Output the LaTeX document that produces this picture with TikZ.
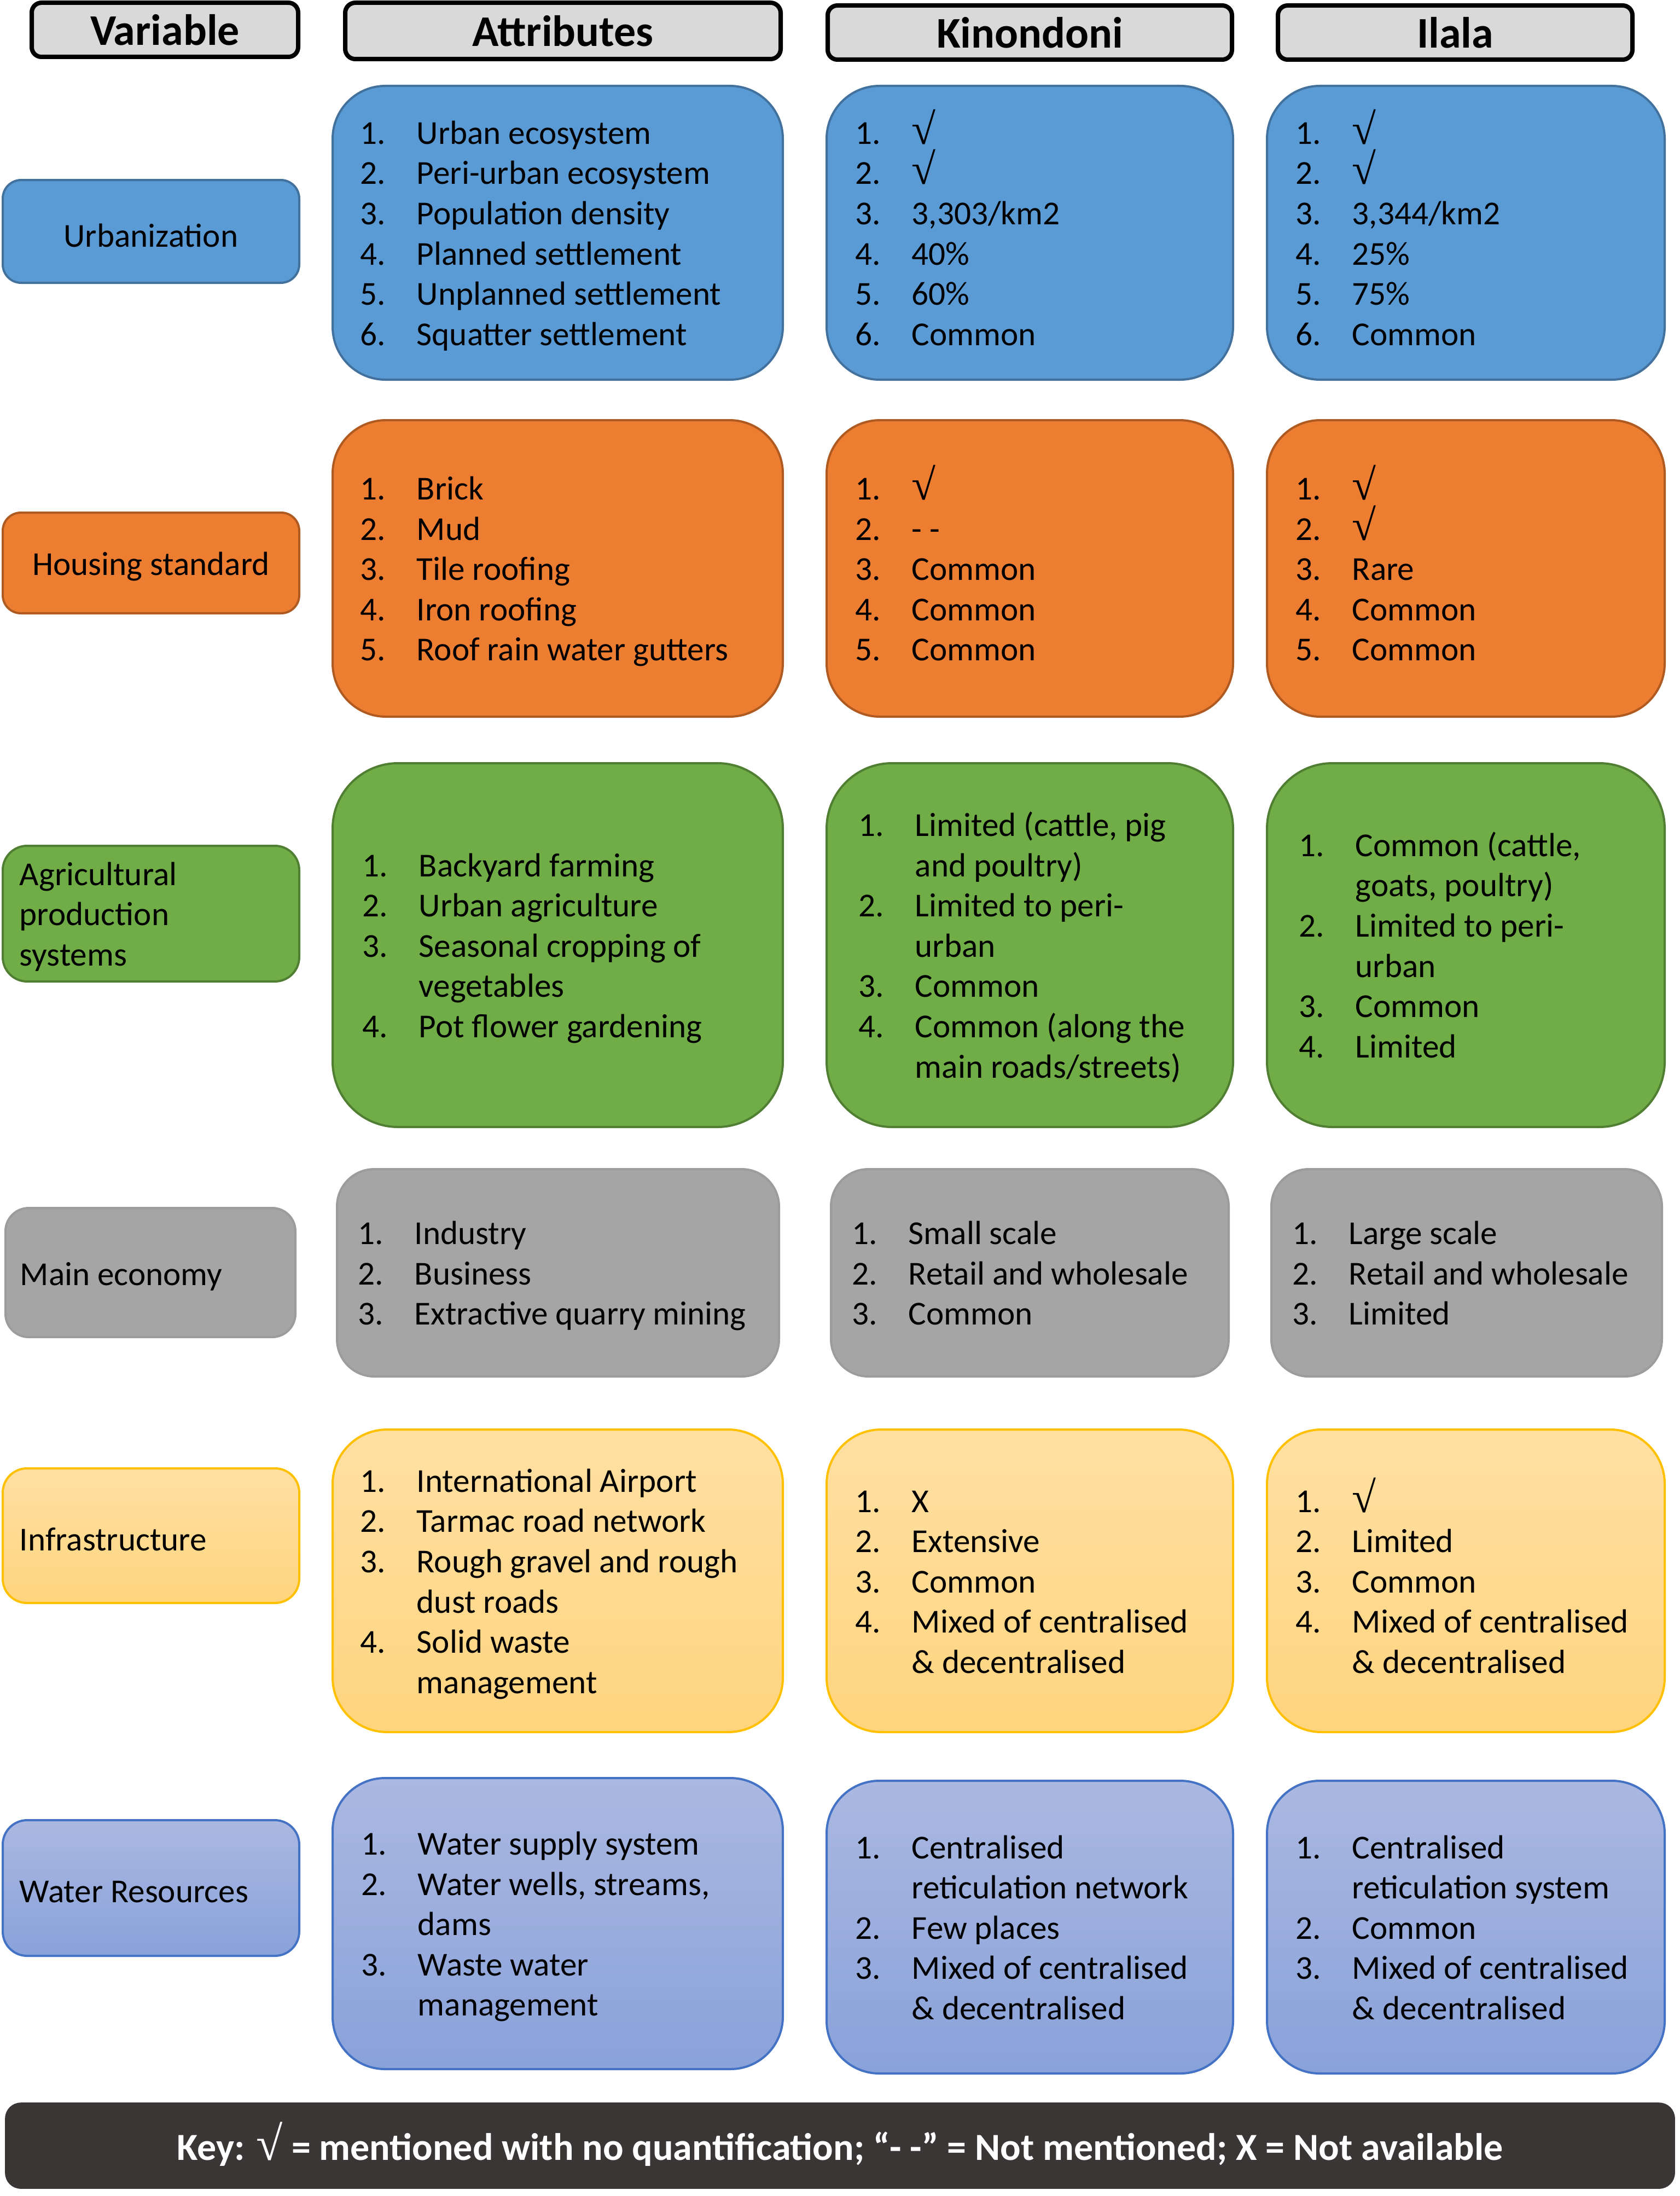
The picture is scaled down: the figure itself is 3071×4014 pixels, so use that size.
\documentclass[tikz,border=0pt]{standalone}
\usepackage{fontspec}
\setmainfont{Carlito}
\newfontfamily\symf{Liberation Serif}
\usepackage{array}
\definecolor{cBlue}{HTML}{5B9BD5}
\definecolor{cBlueD}{HTML}{41719C}
\definecolor{cOr}{HTML}{ED7D31}
\definecolor{cOrD}{HTML}{AE5A21}
\definecolor{cGr}{HTML}{70AD47}
\definecolor{cGrD}{HTML}{507E32}
\definecolor{cGy}{HTML}{A5A5A5}
\definecolor{cGyD}{HTML}{9C9C9C}
\definecolor{cGoT}{HTML}{FFE0A3}
\definecolor{cGoB}{HTML}{FFD47E}
\definecolor{cGoD}{HTML}{FFC000}
\definecolor{cWaT}{HTML}{ABB8E1}
\definecolor{cWaB}{HTML}{89A2DA}
\definecolor{cWaD}{HTML}{4472C4}
\definecolor{cHead}{HTML}{D9D9D9}
\definecolor{cKey}{HTML}{3A3636}
\newcommand\ck{\smash{\symf\fontsize{20}{18.4}\selectfont √}}
\newcommand\kck{\smash{\symf\fontsize{22}{20}\selectfont √}}
\newcommand\lst[1]{\begin{tabular}{@{}p{25.75pt}@{}l@{}}#1\end{tabular}}
\newcommand\mkbox[6]{%
  \pgfmathsetmacro\bw{(#5-#3)*0.25}%
  \pgfmathsetmacro\bh{(#6-#4)*0.25}%
  \pgfmathsetmacro\br{0.18*min(\bw,\bh)}%
  \node[#2, minimum width=\bw pt, minimum height=\bh pt, inner sep=0pt,
        rounded corners=\br pt] (#1) at ({(#3+#5)/2},{(#4+#6)/2}) {};}
\tikzset{
  x=0.25pt, y=-0.25pt,
  cellb/.style={line width=1pt},
  blu/.style={cellb, fill=cBlue, draw=cBlueD},
  ora/.style={cellb, fill=cOr, draw=cOrD},
  gre/.style={cellb, fill=cGr, draw=cGrD},
  gry/.style={cellb, fill=cGy, draw=cGyD},
  gol/.style={cellb, top color=cGoT, bottom color=cGoB, draw=cGoD},
  wat/.style={cellb, top color=cWaT, bottom color=cWaB, draw=cWaD},
  hdr/.style={fill=cHead, draw=black, line width=2pt},
  keyb/.style={fill=cKey, draw=cKey},
  txt/.style={inner sep=0pt, font=\fontsize{15.3}{18.4}\selectfont, anchor=west, yshift=-1.75pt},
  ctxt/.style={inner sep=0pt, font=\fontsize{15.3}{18.4}\selectfont, align=center, yshift=-1.75pt},
  htxt/.style={inner sep=0pt, font=\fontsize{20}{24}\selectfont\bfseries},
}
\begin{document}
\begin{tikzpicture}
\useasboundingbox (0,0) rectangle (3071,4014);
% headers
\mkbox{hv}{hdr}{58}{5}{545}{104}
\mkbox{ha}{hdr}{631}{5}{1427}{108}
\mkbox{hk}{hdr}{1513}{10}{2252}{109}
\mkbox{hi}{hdr}{2336}{10}{2984}{109}
\node[htxt] (hvt) at (hv) {Variable};
\node[htxt] (hat) at (ha) {Attributes};
\node[htxt] (hkt) at (hk) {Kinondoni};
\node[htxt] (hit) at (hi) {Ilala};

% Row 1 Urbanization
\mkbox{v1}{blu}{5}{329}{547}{517}
\mkbox{a1}{blu}{608}{157}{1431}{694}
\mkbox{k1}{blu}{1511}{157}{2254}{694}
\mkbox{i1}{blu}{2316}{157}{3043}{694}
\node[ctxt] (v1t) at (v1) {Urbanization};
\node[txt] (a1t) at ([xshift=13pt]a1.west) {\lst{1.&Urban ecosystem\\2.&Peri-urban ecosystem\\3.&Population density\\4.&Planned settlement\\5.&Unplanned settlement\\6.&Squatter settlement}};
\node[txt] (k1t) at ([xshift=13.5pt]k1.west) {\lst{1.&\ck\\2.&\ck\\3.&3,303/km2\\4.&40\%\\5.&60\%\\6.&Common}};
\node[txt] (i1t) at ([xshift=13.5pt]i1.west) {\lst{1.&\ck\\2.&\ck\\3.&3,344/km2\\4.&25\%\\5.&75\%\\6.&Common}};

% Row 2 Housing
\mkbox{v2}{ora}{5}{937}{547}{1121}
\mkbox{a2}{ora}{608}{768}{1431}{1310}
\mkbox{k2}{ora}{1511}{768}{2254}{1310}
\mkbox{i2}{ora}{2316}{768}{3043}{1310}
\node[ctxt] (v2t) at (v2) {Housing standard};
\node[txt] (a2t) at ([xshift=13pt]a2.west) {\lst{1.&Brick\\2.&Mud\\3.&Tile roofing\\4.&Iron roofing\\5.&Roof rain water gutters}};
\node[txt] (k2t) at ([xshift=13.5pt]k2.west) {\lst{1.&\ck\\2.&- -\\3.&Common\\4.&Common\\5.&Common}};
\node[txt] (i2t) at ([xshift=13.5pt]i2.west) {\lst{1.&\ck\\2.&\ck\\3.&Rare\\4.&Common\\5.&Common}};

% Row 3 Agriculture
\mkbox{v3}{gre}{5}{1546}{547}{1794}
\mkbox{a3}{gre}{608}{1395}{1431}{2060}
\mkbox{k3}{gre}{1511}{1395}{2254}{2060}
\mkbox{i3}{gre}{2316}{1395}{3043}{2060}
\node[txt] (v3t) at ([xshift=8pt]v3.west) {\begin{tabular}{@{}l@{}}Agricultural\\production\\systems\end{tabular}};
\node[txt] (a3t) at ([xshift=14pt]a3.west) {\lst{1.&Backyard farming\\2.&Urban agriculture\\3.&Seasonal cropping of\\&vegetables\\4.&Pot flower gardening}};
\node[txt] (k3t) at ([xshift=15pt]k3.west) {\lst{1.&Limited (cattle, pig\\&and poultry)\\2.&Limited to peri-\\&urban\\3.&Common\\4.&Common (along the\\&main roads/streets)}};
\node[txt] (i3t) at ([xshift=15pt]i3.west) {\lst{1.&Common (cattle,\\&goats, poultry)\\2.&Limited to peri-\\&urban\\3.&Common\\4.&Limited}};

% Row 4 Economy
\mkbox{v4}{gry}{10}{2208}{540}{2444}
\mkbox{a4}{gry}{616}{2137}{1424}{2516}
\mkbox{k4}{gry}{1519}{2137}{2246}{2516}
\mkbox{i4}{gry}{2324}{2137}{3038}{2516}
\node[txt] (v4t) at ([xshift=7pt]v4.west) {Main economy};
\node[txt] (a4t) at ([xshift=10pt]a4.west) {\lst{1.&Industry\\2.&Business\\3.&Extractive quarry mining}};
\node[txt] (k4t) at ([xshift=10pt]k4.west) {\lst{1.&Small scale\\2.&Retail and wholesale\\3.&Common}};
\node[txt] (i4t) at ([xshift=10pt]i4.west) {\lst{1.&Large scale\\2.&Retail and wholesale\\3.&Limited}};

% Row 5 Infrastructure
\mkbox{v5}{gol}{5}{2684}{547}{2930}
\mkbox{a5}{gol}{608}{2613}{1431}{3166}
\mkbox{k5}{gol}{1511}{2613}{2254}{3166}
\mkbox{i5}{gol}{2316}{2613}{3043}{3166}
\node[txt] (v5t) at ([xshift=8pt]v5.west) {Infrastructure};
\node[txt] (a5t) at ([xshift=13pt]a5.west) {\lst{1.&International Airport\\2.&Tarmac road network\\3.&Rough gravel and rough\\&dust roads\\4.&Solid waste\\&management}};
\node[txt] (k5t) at ([xshift=13.5pt]k5.west) {\lst{1.&X\\2.&Extensive\\3.&Common\\4.&Mixed of centralised\\&\& decentralised}};
\node[txt] (i5t) at ([xshift=13.5pt]i5.west) {\lst{1.&\ck\\2.&Limited\\3.&Common\\4.&Mixed of centralised\\&\& decentralised}};

% Row 6 Water
\mkbox{v6}{wat}{5}{3327}{547}{3575}
\mkbox{a6}{wat}{608}{3250}{1431}{3782}
\mkbox{k6}{wat}{1511}{3255}{2254}{3790}
\mkbox{i6}{wat}{2316}{3255}{3043}{3790}
\node[txt] (v6t) at ([xshift=8pt]v6.west) {Water Resources};
\node[txt] (a6t) at ([xshift=13.5pt]a6.west) {\lst{1.&Water supply system\\2.&Water wells, streams,\\&dams\\3.&Waste water\\&management}};
\node[txt] (k6t) at ([xshift=13.5pt]k6.west) {\lst{1.&Centralised\\&reticulation network\\2.&Few places\\3.&Mixed of centralised\\&\& decentralised}};
\node[txt] (i6t) at ([xshift=13.5pt]i6.west) {\lst{1.&Centralised\\&reticulation system\\2.&Common\\3.&Mixed of centralised\\&\& decentralised}};

% Key
\mkbox{key}{keyb}{10}{3844}{3061}{4000}
\node[inner sep=0pt, text=white, yshift=-1.5pt, font=\fontsize{17.5}{20}\selectfont\bfseries] (keyt) at (key) {Key: \kck{} = mentioned with no quantification; “- -” = Not mentioned; X = Not available};
\end{tikzpicture}
\end{document}
